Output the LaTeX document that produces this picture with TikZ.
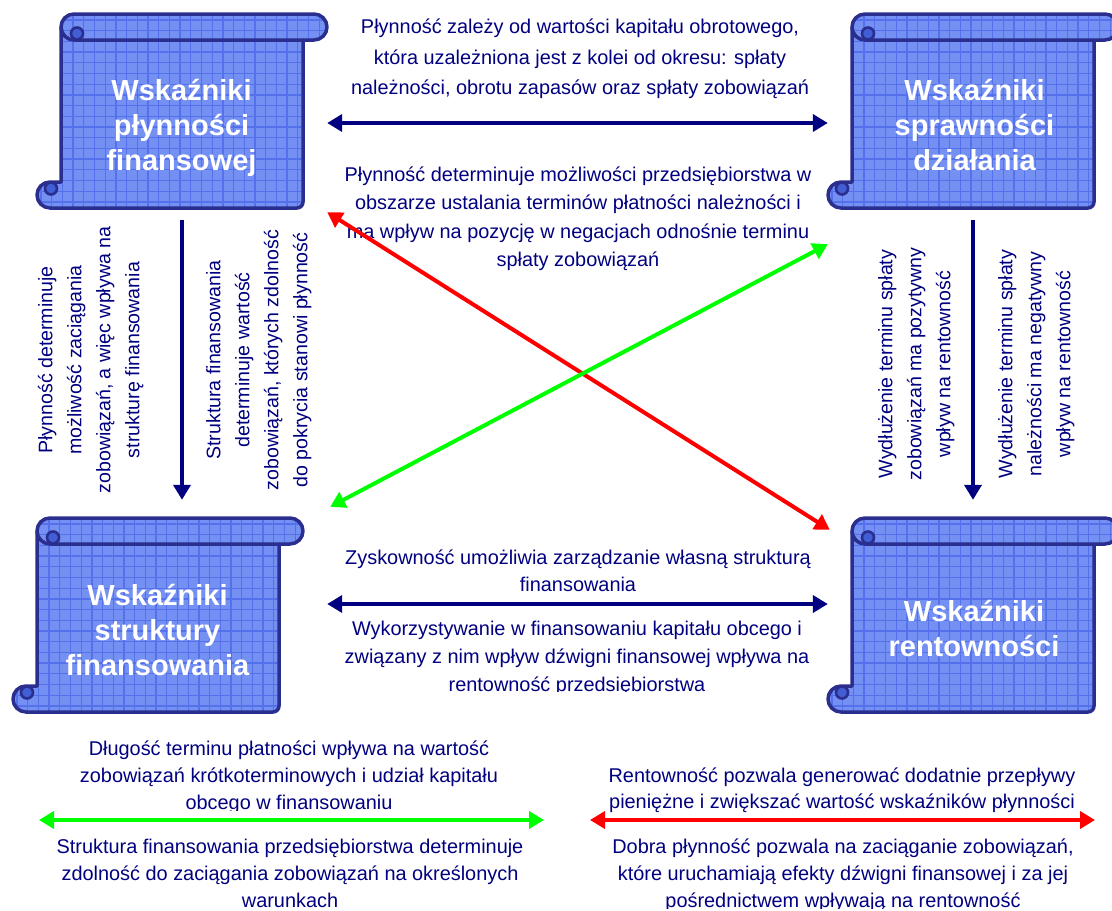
\documentclass[tikz,border=0pt]{standalone}
\usepackage{fontspec}
\setmainfont{Liberation Sans}
\usetikzlibrary{arrows.meta,calc}

\definecolor{txtblue}{RGB}{0,0,128}
\definecolor{scrollfill}{RGB}{116,144,242}
\definecolor{scrollgrid}{RGB}{84,112,234}
\definecolor{scrolledge}{RGB}{42,46,142}
\definecolor{curldark}{RGB}{66,94,212}
\definecolor{arrred}{RGB}{255,0,0}
\definecolor{arrgreen}{RGB}{0,255,0}

\tikzset{
  note/.style={text=txtblue, align=center, inner sep=0pt,
    font=\fontsize{19.9}{#1}\selectfont},
  vnote/.style={text=txtblue, align=center, inner sep=0pt, rotate=90,
    font=\fontsize{19.6}{29}\selectfont},
  title/.style={text=white, align=center, inner sep=0pt,
    font=\fontsize{29}{35}\selectfont\bfseries},
  scrollbox/.style={minimum width=290pt, minimum height=194pt, inner sep=0pt},
  scrolledgeline/.style={draw=scrolledge, line width=3.5pt, line join=round},
  curlline/.style={draw=scrolledge, line width=2.6pt, fill=curldark},
  scrollgridline/.style={draw=scrollgrid, line width=1.3pt},
  navylink/.style={draw=txtblue, line width=4pt},
  redlink/.style={draw=arrred, line width=4pt},
  greenlink/.style={draw=arrgreen, line width=4pt},
}

% outline of one paper scroll, 290 x 194, origin at its top-left corner
\newcommand{\scrollpath}{(37,0) -- (277,0) arc[start angle=270,end angle=450,radius=13]
  -- (266,26) -- (266,188) arc[start angle=0,end angle=90,radius=6]
  -- (13,194) arc[start angle=90,end angle=270,radius=13]
  -- (24,168) -- (24,13) arc[start angle=180,end angle=270,radius=13] -- cycle}

\newcommand{\scrollpaper}[2]{%
  \begin{scope}[shift={(#1,#2)}]
    \begin{scope}
      \clip \scrollpath;
      \fill[scrollfill] (-2,-2) rectangle (292,196);
      \foreach \g in {4,14.7,...,292} \draw[scrollgridline] (\g,-2) -- (\g,196);
      \foreach \g in {6,16.7,...,196} \draw[scrollgridline] (-2,\g) -- (292,\g);
    \end{scope}
    \draw[scrolledgeline] \scrollpath;
    \draw[scrolledgeline] (24,13) arc[start angle=180,end angle=90,radius=13] -- (266,26);
    % rolled-up ends
    \filldraw[curlline] (40,19.5) circle[radius=6];
    \filldraw[curlline] (14,174.5) circle[radius=6];
  \end{scope}}

\begin{document}
\begin{tikzpicture}[x=1pt, y=-1pt, >={Triangle[length=15pt,width=17pt]}]
\clip (0,0) rectangle (1112,911);
\fill[white] (0,0) rectangle (1112,911);

% the four scrolls
\scrollpaper{37}{14}
\scrollpaper{828}{14}
\scrollpaper{13}{518}
\scrollpaper{828}{518}
\node[scrollbox] (TL) at (182,111) {};
\node[scrollbox] (TR) at (973,111) {};
\node[scrollbox] (BL) at (158,615) {};
\node[scrollbox] (BR) at (973,615) {};

% scroll titles
\node[title] (TLt) at (181.5,128.8) {\strut Wskaźniki\\\strut płynności\\\strut finansowej};
\node[title] (TRt) at (974.5,128.8) {\strut Wskaźniki\\\strut sprawności\\\strut działania};
\node[title] (BLt) at (157.5,633) {\strut Wskaźniki\\\strut struktury\\\strut finansowania};
\node[title] (BRt) at (974,631.7) {\strut Wskaźniki\\\strut rentowności};

% horizontal notes
\node[note=30.5, anchor=north] (T1) at (580,12.2)
  {\strut Płynność zależy od wartości kapitału obrotowego,\\
   \strut która uzależniona jest z kolei od okresu: spłaty\\
   \strut należności, obrotu zapasów oraz spłaty zobowiązań};
\node[note=28.5, anchor=north] (T2) at (578,161)
  {\strut Płynność determinuje możliwości przedsiębiorstwa w\\
   \strut obszarze ustalania terminów płatności należności i\\
   \strut ma wpływ na pozycję w negacjach odnośnie terminu\\
   \strut spłaty zobowiązań};
\node[note=27, anchor=north] (M1) at (578,545.4)
  {\strut Zyskowność umożliwia zarządzanie własną strukturą\\
   \strut finansowania};
\begin{scope}
  \clip (0,0) rectangle (1112,691);
  \node[note=28, anchor=north] (M2) at (577,615.4)
    {\strut Wykorzystywanie w finansowaniu kapitału obcego i\\
     \strut związany z nim wpływ dźwigni finansowej wpływa na\\
     \strut rentowność przedsiębiorstwa};
\end{scope}
\begin{scope}
  \clip (0,0) rectangle (1112,810);
  \node[note=27, anchor=north] (B1) at (289,736.1)
    {\strut Długość terminu płatności wpływa na wartość\\
     \strut zobowiązań krótkoterminowych i udział kapitału\\
     \strut obcego w finansowaniu};
\end{scope}
\node[note=27, anchor=north] (B2) at (290,834.1)
  {\strut Struktura finansowania przedsiębiorstwa determinuje\\
   \strut zdolność do zaciągania zobowiązań na określonych\\
   \strut warunkach};
\node[note=26, anchor=north] (R1) at (842,763.8)
  {\strut Rentowność pozwala generować dodatnie przepływy\\
   \strut pieniężne i zwiększać wartość wskaźników płynności};
\begin{scope}
  \clip (0,0) rectangle (1112,908);
  \node[note=27, anchor=north] (R2) at (843,834.1)
    {\strut Dobra płynność pozwala na zaciąganie zobowiązań,\\
     \strut które uruchamiają efekty dźwigni finansowej i za jej\\
     \strut pośrednictwem wpływają na rentowność};
\end{scope}

% vertical notes
\node[vnote] (V1) at (90,360)
  {\strut Płynność determinuje\\
   \strut możliwość zaciągania\\
   \strut zobowiązań, a więc wpływa na\\
   \strut strukturę finansowania};
\node[vnote] (V2) at (258,360)
  {\strut Struktura finansowania\\
   \strut determinuje wartość\\
   \strut zobowiązań, których zdolność\\
   \strut do pokrycia stanowi płynność};
\node[vnote] (V3) at (915.5,364)
  {\strut Wydłużenie terminu spłaty\\
   \strut zobowiązań ma pozytywny\\
   \strut wpływ na rentowność};
\node[vnote] (V4) at (1035.5,364)
  {\strut Wydłużenie terminu spłaty\\
   \strut należności ma negatywny\\
   \strut wpływ na rentowność};

% connectors between the scrolls
\draw[navylink, <->] (TL.east |- 0,123) -- (TR.west |- 0,123);
\draw[navylink, <->] (TL.east |- 0,604) -- (BR.west |- 0,604);
\draw[navylink, ->] ($(TL.south)+(0,12)$) -- ($(TL.south |- BL.north)+(0,-18)$);
\draw[navylink, ->] ($(TR.south)+(0,12)$) -- ($(BR.north)+(0,-18)$);
\draw[redlink, <->] ($(TL.south east)+(0,4)$) -- ($(BR.north west)+(2,12)$);
\draw[greenlink, <->] ($(BL.north east)+(27,-11)$) -- ($(TR.south west)+(0,36)$);

% bottom connectors
\coordinate (g1) at (39,820);
\coordinate (g2) at (544,820);
\coordinate (r1) at (590,820);
\coordinate (r2) at (1095,820);
\draw[greenlink, <->] (g1) -- (g2);
\draw[redlink, <->] (r1) -- (r2);
\end{tikzpicture}
\end{document}
